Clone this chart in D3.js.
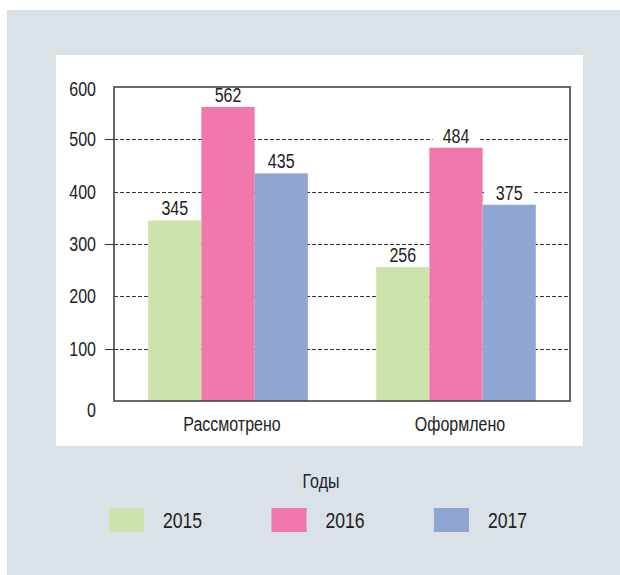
<!DOCTYPE html>
<html>
<head>
<meta charset="utf-8">
<script src="https://cdn.jsdelivr.net/npm/d3@7"></script>
<style>
  html, body { margin: 0; padding: 0; background: #fff; }
  svg text { font-family: "Liberation Sans", Arial, sans-serif; fill: #222; }
</style>
</head>
<body>
<div id="chart"></div>
<script>
// data
const categories = ['Рассмотрено', 'Оформлено'];
const years = ['2015', '2016', '2017'];
const values2015 = [345, 256];
const values2016 = [562, 484];
const values2017 = [435, 375];
const yTicks = [0, 100, 200, 300, 400, 500, 600];
const legendTitle = 'Годы';

const colors = { '2015': '#cce3ae', '2016': '#f078ad', '2017': '#8fa6d3' };
const squeeze = 0.8; // condensed look of the original type

const width = 620, height = 575;
const svg = d3.select('#chart').append('svg')
    .attr('width', width)
    .attr('height', height);

// text drawn narrow by horizontal scaling
function addText(parent, x, y, str, size, anchor) {
    return parent.append('text')
        .attr('transform', `translate(${x},${y}) scale(${squeeze},1)`)
        .attr('text-anchor', anchor || 'start')
        .attr('font-size', size)
        .text(str);
}

// background panels
svg.append('rect')
    .attr('x', 7).attr('y', 10)
    .attr('width', 613).attr('height', 565)
    .attr('fill', '#dae1e7');
svg.append('rect')
    .attr('x', 56).attr('y', 55)
    .attr('width', 527).attr('height', 391)
    .attr('fill', '#fff');

const plot = { left: 114, right: 570, top: 87, bottom: 401 };

const y = d3.scaleLinear().domain([0, 600]).range([plot.bottom, plot.top]);
const x0 = d3.scaleBand().domain(categories)
    .range([plot.left, plot.right])
    .paddingInner(0.3).paddingOuter(0.15);
const x1 = d3.scaleBand().domain(years).range([0, x0.bandwidth()]);

const rows = categories.map((c, i) => ({
    category: c,
    values: [
        { year: '2015', value: values2015[i] },
        { year: '2016', value: values2016[i] },
        { year: '2017', value: values2017[i] }
    ]
}));

// dashed gridlines
svg.append('g')
    .selectAll('line')
    .data(yTicks.filter(d => d > 0 && d < 600))
    .enter()
    .append('line')
    .attr('x1', plot.left).attr('x2', plot.right)
    .attr('y1', d => Math.round(y(d)) + 0.5)
    .attr('y2', d => Math.round(y(d)) + 0.5)
    .attr('stroke', '#333')
    .attr('stroke-width', 1)
    .attr('stroke-dasharray', '4,2');

// y ticks + labels
const yAxis = svg.append('g');
yTicks.forEach(d => {
    const off = d === 0 ? 16 : (d === 600 ? 9 : 7);
    addText(yAxis, 96, y(d) + off, d, 20, 'end');
});
yAxis.selectAll('line')
    .data(yTicks.filter(d => d === 100 || d === 300 || d === 500))
    .enter()
    .append('line')
    .attr('x1', plot.left - 9).attr('x2', plot.left)
    .attr('y1', d => Math.round(y(d)) + 0.5)
    .attr('y2', d => Math.round(y(d)) + 0.5)
    .attr('stroke', '#333');

// bars
const groups = svg.append('g')
    .selectAll('g')
    .data(rows)
    .enter()
    .append('g')
    .attr('transform', d => `translate(${x0(d.category)},0)`);

groups.selectAll('rect')
    .data(d => d.values)
    .enter()
    .append('rect')
    .attr('x', d => x1(d.year))
    .attr('y', d => y(d.value))
    .attr('width', x1.bandwidth())
    .attr('height', d => y(0) - y(d.value))
    .attr('fill', d => colors[d.year]);

// value labels with white backing that breaks the gridlines
groups.selectAll('g.label')
    .data(d => d.values)
    .enter()
    .append('g')
    .attr('class', 'label')
    .each(function (d) {
        const g = d3.select(this);
        const cx = x1(d.year) + x1.bandwidth() / 2;
        const ty = y(d.value) - 5;
        const rect = g.append('rect').attr('fill', '#fff');
        const t = addText(g, cx, ty, d.value, 20, 'middle');
        const w = t.node().getComputedTextLength() * squeeze;
        rect.attr('x', cx - w / 2 - 10).attr('y', ty - 13)
            .attr('width', w + 20).attr('height', 12);
    });

// frame
svg.append('rect')
    .attr('x', plot.left).attr('y', plot.top)
    .attr('width', plot.right - plot.left)
    .attr('height', plot.bottom - plot.top)
    .attr('fill', 'none')
    .attr('stroke', '#444')
    .attr('stroke-width', 1.6);

// category labels
const catG = svg.append('g');
categories.forEach(c => {
    addText(catG, x0(c) + x0.bandwidth() / 2 + 4, 431, c, 20, 'middle');
});

// legend
addText(svg, 321, 488, legendTitle, 20, 'middle');

const legendX = d3.scalePoint().domain(years).range([109, 434]);
const legend = svg.append('g')
    .selectAll('g')
    .data(years)
    .enter()
    .append('g')
    .attr('transform', d => `translate(${legendX(d)},508)`);
legend.append('rect')
    .attr('width', 35).attr('height', 24)
    .attr('fill', d => colors[d]);
legend.each(function (d) {
    addText(d3.select(this), 54, 20, d, 22);
});
</script>
</body>
</html>
